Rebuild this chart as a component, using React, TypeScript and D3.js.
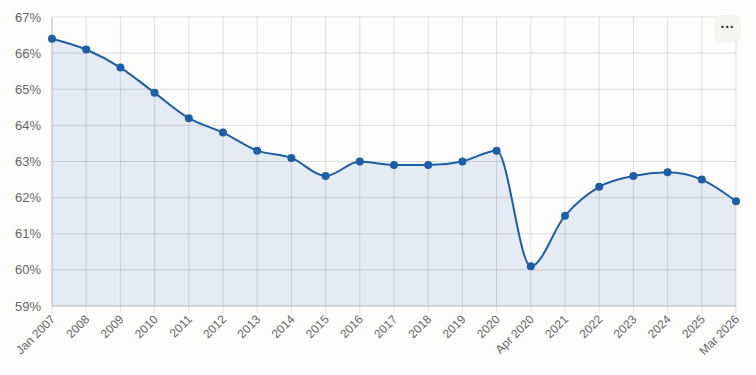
import React from "react";
import * as d3 from "d3";

const categories = ["Jan 2007","2008","2009","2010","2011","2012","2013","2014","2015","2016","2017","2018","2019","2020","Apr 2020","2021","2022","2023","2024","2025","Mar 2026"];
const values = [66.4,66.1,65.6,64.9,64.2,63.8,63.3,63.1,62.6,63.0,62.9,62.9,63.0,63.3,60.1,61.5,62.3,62.6,62.7,62.5,61.9];
const yTicks = [59,60,61,62,63,64,65,66,67];

export default function App() {
  const W = 756, H = 375;
  const left = 52, right = 736, top = 17, bottom = 306;
  const x = d3.scalePoint<string>().domain(categories).range([left, right]);
  const y = d3.scaleLinear().domain([59, 67]).range([bottom, top]);
  const pts: [number, number][] = categories.map((c, i) => [x(c)!, y(values[i])]);
  const line = d3.line().curve(d3.curveMonotoneX)(pts)!;
  const area = d3.area().curve(d3.curveMonotoneX).y0(bottom).x(d => d[0]).y1(d => d[1])(pts)!;
  return (
    <svg width={W} height={H} style={{ position: "absolute", left: 0, top: 0, background: "#fdfdfb" }}
      fontFamily="'Liberation Sans', Arial, sans-serif">
      <rect x={0} y={0} width={W} height={H} fill="#fdfdfb" />
      <path d={area} fill="#e4ebf4" />
      {yTicks.map(t => (
        <g key={t}>
          <line x1={left} x2={right} y1={y(t)} y2={y(t)} stroke="#000" strokeOpacity={0.12} strokeWidth={1} />
          <text x={41} y={y(t)} dy="0.35em" textAnchor="end" fontSize={13} fill="#666">{t}%</text>
        </g>
      ))}
      {categories.map(c => (
        <g key={c}>
          <line x1={x(c)} x2={x(c)} y1={top} y2={bottom + 7} stroke="#000" strokeOpacity={0.12} strokeWidth={1} />
          <text transform={`translate(${x(c)! + 4},${bottom + 14}) rotate(-45)`} textAnchor="end" fontSize={12} fill="#666">{c}</text>
        </g>
      ))}
      <line x1={left} x2={right} y1={bottom} y2={bottom} stroke="#c4c4c4" />
      <line x1={left} x2={left} y1={top} y2={bottom} stroke="#c4c4c4" />
      <path d={line} fill="none" stroke="#1c5ea8" strokeWidth={2} />
      {pts.map((p, i) => (
        <circle key={i} cx={p[0]} cy={p[1]} r={4} fill="#1c5ea8" />
      ))}
      <rect x={714} y={15} width={27} height={27} rx={6} fill="#f5f4f0" />
      <text x={727.5} y={32} textAnchor="middle" fontSize={14} fontWeight="bold" fill="#333">···</text>
    </svg>
  );
}
